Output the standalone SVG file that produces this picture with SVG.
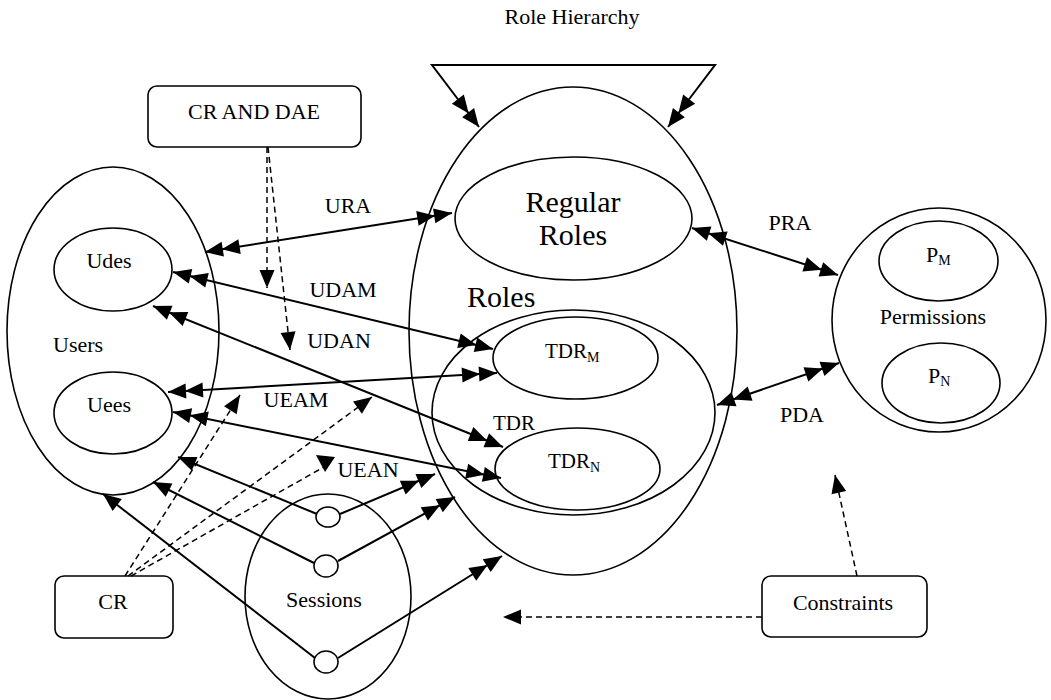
<svg xmlns="http://www.w3.org/2000/svg" width="1051" height="700" viewBox="0 0 1051 700">
<style>
text{font-family:"Liberation Serif","Times New Roman",serif;fill:#000;font-size:22px}
.m{text-anchor:middle}
.big{font-size:30px}
.sub{font-size:14px}
.shape{fill:none;stroke:#000;stroke-width:1.6}
.box{fill:#fff;stroke:#000;stroke-width:1.6}
.c line,.c path{fill:none;stroke:#000;stroke-width:2}
.c .d{stroke-width:1.5;stroke-dasharray:6 4}
</style>
<defs>
<marker id="dbl" markerUnits="userSpaceOnUse" viewBox="-37 -9 38 18" markerWidth="38" markerHeight="18" refX="0" refY="0" orient="auto-start-reverse">
<path d="M0,0 L-18,-7.5 L-18,7.5 Z M-17,0 L-35,-7.5 L-35,7.5 Z" fill="#000" stroke="none"/>
</marker>
<marker id="one" markerUnits="userSpaceOnUse" viewBox="-19 -9 20 18" markerWidth="20" markerHeight="18" refX="0" refY="0" orient="auto">
<path d="M0,0 L-18,-7.5 L-18,7.5 Z" fill="#000" stroke="none"/>
</marker>
</defs>
<rect width="1051" height="700" fill="#fff"/>

<text class="m" x="572" y="24">Role Hierarchy</text>

<g id="roles">
<ellipse class="shape" cx="573" cy="331" rx="164" ry="244"/>
<text x="467" y="307" class="big">Roles</text>
</g>
<g id="regular-roles">
<ellipse class="shape" cx="573.5" cy="218.5" rx="118.5" ry="61.5"/>
<text class="m big" x="573" y="212">Regular</text>
<text class="m big" x="573" y="245">Roles</text>
</g>
<g id="tdr">
<ellipse class="shape" cx="573.5" cy="412.5" rx="141.5" ry="102.5"/>
<text x="493" y="430" style="font-size:21px">TDR</text>
</g>
<g id="tdr-m">
<ellipse class="shape" cx="575.5" cy="358" rx="82.5" ry="41"/>
<text x="545" y="358" style="font-size:21px">TDR<tspan class="sub" dy="4">M</tspan></text>
</g>
<g id="tdr-n">
<ellipse class="shape" cx="577.5" cy="469" rx="82.5" ry="41"/>
<text x="548" y="468" style="font-size:21px">TDR<tspan class="sub" dy="4">N</tspan></text>
</g>

<g id="users">
<ellipse class="shape" cx="113" cy="331" rx="106" ry="164"/>
<text x="53" y="352">Users</text>
</g>
<g id="udes">
<ellipse class="shape" cx="113" cy="269.5" rx="59" ry="41.5"/>
<text class="m" x="109" y="268">Udes</text>
</g>
<g id="uees">
<ellipse class="shape" cx="113" cy="413" rx="59" ry="41"/>
<text class="m" x="109" y="412">Uees</text>
</g>

<g id="permissions">
<ellipse class="shape" cx="939" cy="320" rx="107" ry="112"/>
<text class="m" x="933" y="324">Permissions</text>
</g>
<g id="p-m">
<ellipse class="shape" cx="938.5" cy="261" rx="59.5" ry="40"/>
<text x="926" y="262">P<tspan class="sub" dy="3">M</tspan></text>
</g>
<g id="p-n">
<ellipse class="shape" cx="941" cy="383" rx="59" ry="40"/>
<text x="928" y="383">P<tspan class="sub" dy="3">N</tspan></text>
</g>

<g id="sessions">
<ellipse class="shape" cx="328" cy="596.5" rx="83" ry="102.5"/>
<text class="m" x="324" y="607">Sessions</text>
<ellipse class="shape" cx="328" cy="517" rx="12" ry="10"/>
<ellipse class="shape" cx="326" cy="566" rx="12" ry="11"/>
<ellipse class="shape" cx="326" cy="662" rx="12" ry="11"/>
</g>

<g id="cr-and-dae">
<rect class="box" x="148" y="86" width="213" height="61" rx="9"/>
<text class="m" x="254" y="119">CR AND DAE</text>
</g>
<g id="cr">
<rect class="box" x="55" y="576" width="118" height="62" rx="9"/>
<text class="m" x="113" y="609">CR</text>
</g>
<g id="constraints">
<rect class="box" x="762" y="576" width="165" height="61" rx="9"/>
<text class="m" x="843" y="610">Constraints</text>
</g>

<g id="connectors" class="c">
<path d="M479,127 L432,65 L715,65 L668,127" marker-start="url(#dbl)" marker-end="url(#dbl)"/>
<line x1="205" y1="252" x2="452" y2="213" marker-start="url(#dbl)" marker-end="url(#dbl)"/>
<line x1="173" y1="272" x2="493" y2="349" marker-start="url(#dbl)" marker-end="url(#dbl)"/>
<line x1="153" y1="306" x2="503" y2="447" marker-start="url(#dbl)" marker-end="url(#dbl)"/>
<line x1="168" y1="392" x2="497" y2="373" marker-start="url(#dbl)" marker-end="url(#dbl)"/>
<line x1="173" y1="412" x2="501" y2="478" marker-start="url(#dbl)" marker-end="url(#dbl)"/>
<line x1="692" y1="228" x2="838" y2="275" marker-start="url(#dbl)" marker-end="url(#dbl)"/>
<line x1="717" y1="405" x2="839" y2="363" marker-start="url(#dbl)" marker-end="url(#dbl)"/>

<line x1="317" y1="514" x2="178" y2="457" marker-end="url(#one)"/>
<line x1="340" y1="514" x2="435" y2="474" marker-end="url(#dbl)"/>
<line x1="314" y1="563" x2="153" y2="482" marker-end="url(#one)"/>
<line x1="338" y1="561" x2="455" y2="497" marker-end="url(#dbl)"/>
<line x1="315" y1="658" x2="103" y2="494" marker-end="url(#one)"/>
<line x1="338" y1="658" x2="502" y2="556" marker-end="url(#dbl)"/>

<line class="d" x1="267" y1="147" x2="267" y2="288" marker-end="url(#one)"/>
<line class="d" x1="268" y1="147" x2="290" y2="350" marker-end="url(#one)"/>
<line class="d" x1="125" y1="576" x2="240" y2="395" marker-end="url(#one)"/>
<line class="d" x1="128" y1="576" x2="372" y2="397" marker-end="url(#one)"/>
<line class="d" x1="131" y1="576" x2="331" y2="463"/>
<polygon points="316,455 335,457 325,472" fill="#000"/>
<line class="d" x1="762" y1="617" x2="503" y2="617" marker-end="url(#one)"/>
<line class="d" x1="857" y1="576" x2="835" y2="475" marker-end="url(#one)"/>

<text class="m" x="348" y="213">URA</text>
<text class="m" x="343" y="297">UDAM</text>
<text class="m" x="339" y="348">UDAN</text>
<text class="m" x="296" y="407">UEAM</text>
<text class="m" x="368" y="477">UEAN</text>
<text class="m" x="790" y="230">PRA</text>
<text class="m" x="802" y="422">PDA</text>
</g>
</svg>
